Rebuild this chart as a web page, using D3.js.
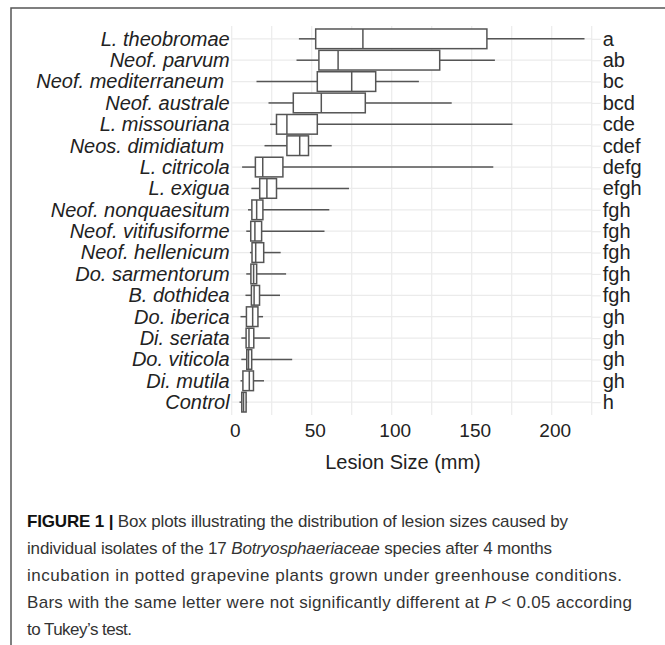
<!DOCTYPE html>
<html>
<head>
<meta charset="utf-8">
<script src="https://cdn.jsdelivr.net/npm/d3@7"></script>
<style>
  body { margin: 0; background: #fff; }
  svg { display: block; font-family: "Liberation Sans", Arial, sans-serif; }
</style>
</head>
<body>
<div id="chart"></div>
<script>
// Lesion size box plots, Botryosphaeriaceae species (top to bottom)

const species = ['L. theobromae', 'Neof. parvum', 'Neof. mediterraneum ', 'Neof. australe', 'L. missouriana',
	'Neos. dimidiatum ', 'L. citricola', 'L. exigua', 'Neof. nonquaesitum', 'Neof. vitifusiforme',
	'Neof. hellenicum', 'Do. sarmentorum', 'B. dothidea', 'Do. iberica', 'Di. seriata',
	'Do. viticola', 'Di. mutila', 'Control'];
const letters = ['a', 'ab', 'bc', 'bcd', 'cde', 'cdef', 'defg', 'efgh', 'fgh', 'fgh',
	'fgh', 'fgh', 'fgh', 'gh', 'gh', 'gh', 'gh', 'h'];
const whiskerLow  = [42, 40.5, 15.5, 23, 24, 20.5, 6.5, 12.3, 10.2, 9.1, 11.4, 9.1, 8.6, 5.5, 6, 6, 5.5, 4.9];
const q1          = [52.5, 54.5, 53.5, 38.5, 28, 34.5, 14.8, 17.5, 12.6, 11.9, 12.7, 12, 12.3, 9.2, 9, 9.4, 7, 6.3];
const median      = [82, 66.5, 75, 56, 34.5, 42.5, 19.4, 22, 15.6, 14.5, 15, 13.7, 14, 13.1, 10.8, 10.5, 11, 7.4];
const q3          = [159.5, 130, 90, 83.5, 53.5, 48, 32, 28, 19.5, 18.7, 20, 15.6, 17.4, 16.4, 13.8, 12.5, 13.6, 9];
const whiskerHigh = [220.5, 164.5, 117, 137.5, 175.5, 62.5, 163.5, 73.3, 61, 58, 30.6, 34, 30.2, 19.6, 23.9, 37.8, 20.2, 9.6];
const xTicks = [0, 50, 100, 150, 200];
const gridTicks = d3.range(0, 226, 25);

const captionLines = [
	[{t: 'FIGURE 1 | ', b: true}, {t: 'Box plots illustrating the distribution of lesion sizes caused by'}],
	[{t: 'individual isolates of the 17 '}, {t: 'Botryosphaeriaceae', i: true}, {t: ' species after 4 months'}],
	[{t: 'incubation in potted grapevine plants grown under greenhouse conditions.'}],
	[{t: 'Bars with the same letter were not significantly different at '}, {t: 'P', i: true}, {t: ' < 0.05 according'}],
	[{t: 'to Tukey\u2019s test.'}]
];
const captionEnds = [568, 552, 622, 632, 132];

const W = 665, H = 645;
const svg = d3.select('#chart').append('svg')
	.attr('width', W)
	.attr('height', H);

// figure frame
svg.append('path')
	.attr('d', `M${W},8H11V${H}`)
	.attr('fill', 'none')
	.attr('stroke', '#555')
	.attr('stroke-width', 1.5);

const rows = species.map((s, i) => ({
	name: s, letter: letters[i], lo: whiskerLow[i], q1: q1[i], med: median[i], q3: q3[i], hi: whiskerHigh[i]
}));

const x = d3.scaleLinear().domain([0, 225]).range([231.7, 591.7]);
const y = d3.scalePoint().domain(species).range([26, 415]).padding(0.6);
const boxH = y.step() * 0.92;

// grid
svg.append('g').selectAll('line')
	.data(gridTicks)
	.enter().append('line')
	.attr('x1', d => x(d)).attr('x2', d => x(d))
	.attr('y1', 26).attr('y2', 415)
	.attr('stroke', '#ebebeb')
	.attr('stroke-width', 1.2);

svg.append('g').selectAll('line')
	.data(species)
	.enter().append('line')
	.attr('x1', x(0)).attr('x2', x(225))
	.attr('y1', d => y(d)).attr('y2', d => y(d))
	.attr('stroke', '#ebebeb')
	.attr('stroke-width', 1.2);

// axes
const xAxis = svg.append('g')
	.attr('transform', 'translate(3,415)')
	.call(d3.axisBottom(x).tickValues(xTicks).tickSize(0).tickPadding(9));
xAxis.select('.domain').remove();
xAxis.selectAll('text')
	.attr('fill', '#222')
	.style('font-size', '19px');

const yAxis = svg.append('g')
	.attr('transform', `translate(${x(0) - 2},0)`)
	.call(d3.axisLeft(y).tickSize(0).tickPadding(0));
yAxis.select('.domain').remove();
yAxis.selectAll('text')
	.attr('fill', '#222')
	.style('font-size', '20px')
	.style('font-style', 'italic')
	.style('white-space', 'pre');

const rAxis = svg.append('g')
	.attr('transform', `translate(${x(225)},0)`)
	.call(d3.axisRight(y).tickSize(9).tickPadding(2).tickFormat((d, i) => letters[i]));
rAxis.select('.domain').remove();
rAxis.selectAll('line').attr('stroke', '#ebebeb').attr('stroke-width', 1.2);
rAxis.selectAll('text')
	.attr('fill', '#222')
	.style('font-size', '20px');

svg.append('text')
	.attr('x', 403)
	.attr('y', 469)
	.attr('text-anchor', 'middle')
	.attr('fill', '#222')
	.style('font-size', '20px')
	.text('Lesion Size (mm)');

// boxes
const box = svg.append('g').selectAll('g')
	.data(rows)
	.enter().append('g')
	.attr('stroke', '#555')
	.attr('stroke-width', 1.5);

box.append('line')
	.attr('x1', d => x(d.lo)).attr('x2', d => x(d.q1))
	.attr('y1', d => y(d.name)).attr('y2', d => y(d.name));
box.append('line')
	.attr('x1', d => x(d.q3)).attr('x2', d => x(d.hi))
	.attr('y1', d => y(d.name)).attr('y2', d => y(d.name));
box.append('rect')
	.attr('x', d => x(d.q1))
	.attr('y', d => y(d.name) - boxH / 2)
	.attr('width', d => x(d.q3) - x(d.q1))
	.attr('height', boxH)
	.attr('fill', '#fff');
box.append('line')
	.attr('x1', d => x(d.med)).attr('x2', d => x(d.med))
	.attr('y1', d => y(d.name) - boxH / 2).attr('y2', d => y(d.name) + boxH / 2);

// caption
const cap = svg.append('g')
	.style('font-size', '17px')
	.attr('fill', '#333');
captionLines.forEach((line, i) => {
	const t = cap.append('text')
		.attr('x', 27)
		.attr('y', 527 + i * 27)
		.attr('textLength', captionEnds[i] - 27)
		.attr('lengthAdjust', 'spacing')
		.style('white-space', 'pre');
	line.forEach(p => {
		t.append('tspan')
			.attr('font-weight', p.b ? 'bold' : null)
			.attr('font-style', p.i ? 'italic' : null)
			.attr('fill', p.b ? '#111' : null)
			.text(p.t);
	});
});
</script>
</body>
</html>
